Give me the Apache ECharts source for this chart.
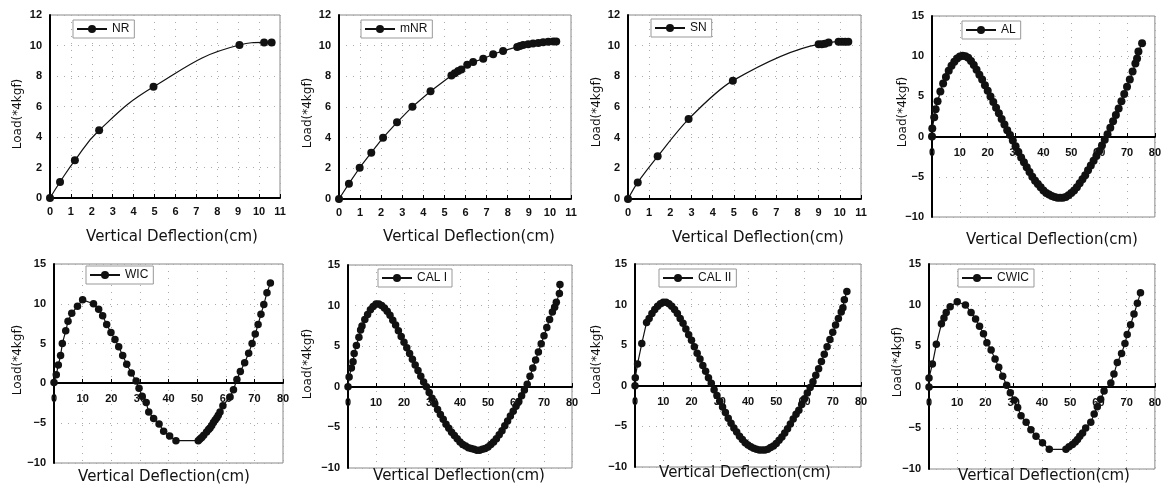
<!DOCTYPE html>
<html>
<head>
<meta charset="utf-8">
<title>Load - Vertical Deflection</title>
<script src="https://cdn.jsdelivr.net/npm/echarts@6/dist/echarts.min.js"></script>
<style>
  html, body { margin: 0; padding: 0; background: #fff; }
  #main { width: 1164px; height: 497px; }
</style>
</head>
<body>
<div id="main"></div>
<script>
// readings: [deflection (cm), load (*4kgf)]
const nrPoints = [[0, 0], [0.48, 1.05], [1.19, 2.47], [2.35, 4.44], [4.95, 7.29], [9.06, 10.03], [10.24, 10.2], [10.6, 10.2]]

const mnrPoints = [[0, 0], [0.47, 1.0], [0.98, 2.04], [1.53, 3.02], [2.09, 4.0], [2.75, 5.0], [3.48, 6.02], [4.34, 7.03],
  [5.33, 8.06], [5.49, 8.2], [5.65, 8.34], [5.8, 8.45], [6.08, 8.76], [6.36, 8.93], [6.84, 9.15], [7.31, 9.44], [7.78, 9.66],
  [8.45, 9.92], [8.58, 9.98], [8.73, 10.05], [8.97, 10.09], [9.2, 10.14], [9.45, 10.18], [9.68, 10.23], [9.92, 10.25],
  [10.16, 10.27], [10.3, 10.27]]

const snPoints = [[0, 0], [0.46, 1.08], [1.4, 2.78], [2.86, 5.21], [4.95, 7.72], [9.0, 10.09], [9.15, 10.1], [9.3, 10.13],
  [9.47, 10.2], [9.94, 10.26], [10.1, 10.26], [10.25, 10.26], [10.4, 10.26]]

const alPoints = [[0, 0], [0.1, 1.0], [0.8, 2.4], [1.3, 3.4], [2.0, 4.4], [3, 5.6], [4, 6.6], [5, 7.4], [6, 8.2], [7, 8.8],
  [8, 9.3], [9, 9.7], [10, 9.95], [11, 10.05], [12, 10.0], [13, 9.8], [14, 9.4], [15, 8.9], [16, 8.3], [17, 7.7], [18, 7.1],
  [19, 6.4], [20, 5.7], [21, 5.0], [22, 4.3], [23, 3.6], [24, 2.9], [25, 2.2], [26, 1.5], [27, 0.8], [28, 0.2], [29, -0.5],
  [30, -1.2], [31, -1.9], [32, -2.6], [33, -3.2], [34, -3.8], [35, -4.4], [36, -5.0], [37, -5.5], [38, -5.9], [39, -6.3],
  [40, -6.7], [41, -7.0], [42, -7.2], [43, -7.4], [44, -7.5], [45, -7.6], [46, -7.6], [47, -7.6], [48, -7.5], [49, -7.3],
  [50, -7.0], [51, -6.7], [52, -6.3], [53, -5.8], [54, -5.3], [55, -4.8], [56, -4.2], [57, -3.6], [58, -3.0], [59, -2.4],
  [60, -1.8], [61, -1.1], [62, -0.4], [63, 0.3], [64, 1.1], [65, 1.9], [66, 2.7], [67, 3.5], [68, 4.4], [69, 5.3], [70, 6.2],
  [71, 7.1], [72, 8.1], [73, 9.1], [73.6, 9.7], [74.1, 10.6], [75.4, 11.6]]

const wicPoints = [[0, 0.1], [0.8, 1.1], [1.5, 2.3], [2.3, 3.5], [2.9, 5.0], [4.1, 6.6], [4.9, 7.8], [6.2, 8.8], [8.2, 9.7],
  [10.0, 10.5], [13.8, 10.0], [15.6, 9.3], [17.0, 8.5], [18.4, 7.4], [19.9, 6.4], [21.3, 5.5], [22.6, 4.6], [24.0, 3.5],
  [25.4, 2.4], [27.0, 1.3], [28.7, 0.3], [29.7, -0.6], [30.8, -1.6], [32.2, -2.4], [33.1, -3.6], [34.8, -4.4], [36.7, -5.1],
  [38.3, -6.0], [40.4, -6.6], [42.6, -7.2], [50.4, -7.2], [51.0, -7.0], [51.6, -6.8], [52.3, -6.5], [53.3, -6.1],
  [54.0, -5.8], [54.5, -5.6], [55.1, -5.3], [55.7, -4.9], [56.3, -4.6], [56.9, -4.3], [57.4, -4.0], [58.0, -3.6],
  [59.0, -2.8], [61.5, -1.7], [62.7, -0.8], [63.9, 0.5], [65.1, 1.5], [66.6, 2.6], [68.0, 3.8], [69.2, 5.0], [70.3, 6.2],
  [71.3, 7.4], [72.3, 8.7], [73.3, 9.9], [74.4, 11.4], [75.6, 12.6]]

const cal1Points = [[0, 0], [0.4, 1.2], [1.2, 2.3], [1.8, 3.1], [2.2, 4.1], [3, 5.1], [3.9, 6.1], [4.5, 7.0], [5, 7.5],
  [6, 8.3], [7, 8.9], [8, 9.5], [9, 9.9], [10, 10.2], [11, 10.2], [12, 10.0], [13, 9.7], [14, 9.3], [15, 8.8], [16, 8.2],
  [17, 7.6], [18, 6.9], [19, 6.2], [20, 5.5], [21, 4.8], [22, 4.1], [23, 3.4], [24, 2.7], [25, 2.0], [26, 1.3], [27, 0.6],
  [28, 0.0], [29, -0.7], [30, -1.4], [31, -2.1], [32, -2.8], [33, -3.4], [34, -4.0], [35, -4.6], [36, -5.1], [37, -5.6],
  [38, -6.0], [39, -6.4], [40, -6.8], [41, -7.1], [42, -7.3], [43, -7.5], [44, -7.6], [45, -7.7], [46, -7.8], [47, -7.8],
  [48, -7.7], [49, -7.6], [50, -7.4], [51, -7.1], [52, -6.8], [53, -6.4], [54, -5.9], [55, -5.4], [56, -4.8], [57, -4.2],
  [58, -3.6], [59, -3.0], [60, -2.4], [61, -1.8], [62, -1.1], [63, -0.4], [64, 0.3], [65, 1.3], [66, 2.3], [67, 3.3],
  [68, 4.3], [69, 5.3], [70, 6.3], [71, 7.3], [72, 8.3], [73, 9.2], [73.8, 9.8], [74.4, 10.4], [75.5, 11.5], [75.7, 12.6]]

const cal2Points = [[0, 0], [0.1, 1.0], [0.9, 2.7], [2.4, 5.2], [4.1, 7.8], [5, 8.3], [6, 8.9], [7, 9.4], [8, 9.8],
  [9, 10.1], [10, 10.3], [11, 10.3], [12, 10.1], [13, 9.8], [14, 9.4], [15, 8.9], [16, 8.3], [17, 7.7], [18, 7.0],
  [19, 6.3], [20, 5.6], [21, 4.8], [22, 4.0], [23, 3.3], [24, 2.5], [25, 1.8], [26, 1.0], [27, 0.3], [28, -0.5], [29, -1.2],
  [30, -1.9], [31, -2.6], [32, -3.3], [33, -4.0], [34, -4.6], [35, -5.2], [36, -5.7], [37, -6.2], [38, -6.6], [39, -7.0],
  [40, -7.3], [41, -7.5], [42, -7.7], [43, -7.8], [44, -7.9], [45, -7.9], [46, -7.9], [47, -7.8], [48, -7.6], [49, -7.4],
  [50, -7.1], [51, -6.7], [52, -6.3], [53, -5.8], [54, -5.3], [55, -4.7], [56, -4.1], [57, -3.5], [58, -3.0], [59, -2.3],
  [60, -1.6], [61, -0.9], [62, -0.2], [63, 0.5], [64, 1.3], [65, 2.1], [66, 3.0], [67, 3.9], [68, 4.8], [69, 5.7], [70, 6.6],
  [71, 7.5], [72, 8.3], [73, 9.1], [73.6, 9.6], [74.1, 10.6], [75, 11.6]]

const cwicPoints = [[0, 0], [0, 1.1], [1.2, 2.8], [2.6, 5.2], [4.4, 7.7], [5.3, 8.4], [6.1, 9.1], [7.5, 9.8], [10.0, 10.4],
  [12.9, 10.0], [14.9, 9.1], [16.5, 8.3], [17.9, 7.4], [19.3, 6.5], [20.5, 5.4], [22.0, 4.5], [23.4, 3.4], [24.7, 2.4],
  [26.1, 1.3], [27.5, 0.2], [28.8, -0.7], [30.2, -1.6], [31.4, -2.5], [32.6, -3.5], [34.4, -4.3], [36.1, -5.2], [37.9, -6.0],
  [40.2, -6.8], [42.6, -7.6], [48.5, -7.6], [49.6, -7.3], [50.8, -7.0], [51.8, -6.7], [52.6, -6.4], [53.4, -6.0],
  [54.4, -5.6], [55.5, -5.0], [57.3, -4.3], [58.5, -3.3], [59.6, -2.4], [60.8, -1.5], [62.0, -0.5], [64.4, 0.5], [65.5, 1.6],
  [66.7, 3.0], [68.2, 4.1], [69.4, 5.3], [70.2, 6.4], [71.4, 7.6], [72.6, 8.9], [73.8, 10.2], [74.9, 11.5]]

const seriesNames = ['NR', 'mNR', 'SN', 'AL', 'WIC', 'CAL I', 'CAL II', 'CWIC']
const seriesPoints = [nrPoints, mnrPoints, snPoints, alPoints, wicPoints, cal1Points, cal2Points, cwicPoints]

// axis ranges
const monoX = { min: 0, max: 11, interval: 1 }
const monoY = { min: 0, max: 12, interval: 2 }
const cycleX = { min: 0, max: 80, interval: 10 }
const cycleY = { min: -10, max: 15, interval: 5 }

const xTitle = 'Vertical Deflection(cm)'
const yTitle = 'Load(*4kgf)'

// layout of each panel: grid [left, top, width, height], legend [left, top], x title [cx, cy], y title [cx, cy]
const panels = [
  { grid: [50, 15, 230, 183], legend: [73, 20], xt: [172, 237], yt: [18, 114], cyc: false, smooth: 0.45 },
  { grid: [339, 15, 232, 184], legend: [361, 20], xt: [469, 237], yt: [308, 113], cyc: false, smooth: false },
  { grid: [628, 15, 233, 184], legend: [651, 19], xt: [758, 238], yt: [597, 112], cyc: false, smooth: 0.3 },
  { grid: [932, 16, 223, 201], legend: [962, 21], xt: [1052, 240], yt: [903, 112], cyc: true, smooth: false },
  { grid: [54, 264, 229, 199], legend: [86, 266], xt: [164, 477], yt: [18, 360], cyc: true, smooth: false },
  { grid: [348, 265, 224, 203], legend: [378, 269], xt: [459, 476], yt: [308, 364], cyc: true, smooth: false },
  { grid: [635, 264, 226, 203], legend: [659, 269], xt: [745, 473], yt: [597, 360], cyc: true, smooth: false },
  { grid: [929, 264, 227, 205], legend: [958, 269], xt: [1044, 476], yt: [898, 362], cyc: true, smooth: false },
]

const tickFont = { fontFamily: 'Liberation Sans', fontSize: 11, fontWeight: 'bold', color: '#111' }

const chart = echarts.init(document.getElementById('main'), null, { renderer: 'canvas' })

const grid = [], xAxis = [], yAxis = [], series = [], legend = [], graphic = []

panels.forEach((p, i) => {
  const [gl, gt, gw, gh] = p.grid
  grid.push({ left: gl, top: gt, width: gw, height: gh, show: true, borderColor: '#888', borderWidth: 1 })
  const xr = p.cyc ? cycleX : monoX
  const yr = p.cyc ? cycleY : monoY
  // the x axis of the cyclic panels runs along load = 0
  const zeroLift = p.cyc ? -Math.round(gh * (0 - yr.min) / (yr.max - yr.min)) : 0
  xAxis.push({
    type: 'value', gridIndex: i, ...xr,
    position: 'bottom', offset: zeroLift,
    axisLine: { onZero: false, lineStyle: { color: '#000', width: 2 } },
    axisTick: { show: true, inside: true, length: 4, lineStyle: { color: '#000' } },
    axisLabel: { ...tickFont, margin: p.cyc ? 10 : 8, showMinLabel: true, hideOverlap: false },
    splitLine: { show: true, lineStyle: { color: '#aaa', type: [1, 6] } },
  })
  yAxis.push({
    type: 'value', gridIndex: i, ...yr,
    axisLine: { show: true, onZero: false, lineStyle: { color: '#000', width: 2 } },
    axisTick: { show: false },
    axisLabel: { ...tickFont, margin: 8, formatter: v => String(v).replace('-', '\u2212') },
    splitLine: { show: true, lineStyle: { color: '#aaa', type: [1, 6] } },
  })
  series.push({
    name: seriesNames[i], type: 'line', xAxisIndex: i, yAxisIndex: i,
    data: seriesPoints[i], smooth: p.smooth,
    symbol: 'circle', symbolSize: i < 4 ? 8 : 7.5, showSymbol: true,
    itemStyle: { color: '#111' }, lineStyle: { color: '#111', width: 1.2 },
    animation: false, clip: false, z: 5,
  })
  legend.push({
    data: [seriesNames[i]], left: p.legend[0], top: p.legend[1],
    orient: 'horizontal', padding: [3, 5, 3, 3], itemWidth: 30, itemHeight: 10, itemGap: 4,
    borderColor: '#999', borderWidth: 1, backgroundColor: '#fff',
    textStyle: { fontFamily: 'Liberation Sans', fontSize: 12, color: '#111' },
    selectedMode: false,
  })
  graphic.push({
    type: 'text', x: p.xt[0], y: p.xt[1],
    style: { text: xTitle, fontFamily: 'DejaVu Sans', fontSize: 15, fill: '#111', align: 'center', verticalAlign: 'middle' },
  })
  graphic.push({
    type: 'text', x: p.yt[0], y: p.yt[1], rotation: Math.PI / 2,
    style: { text: yTitle, fontFamily: 'DejaVu Sans', fontSize: 12, fill: '#111', align: 'center', verticalAlign: 'middle' },
  })
})

chart.setOption({
  animation: false,
  backgroundColor: '#fff',
  grid, xAxis, yAxis, series, legend, graphic,
})
</script>
</body>
</html>
